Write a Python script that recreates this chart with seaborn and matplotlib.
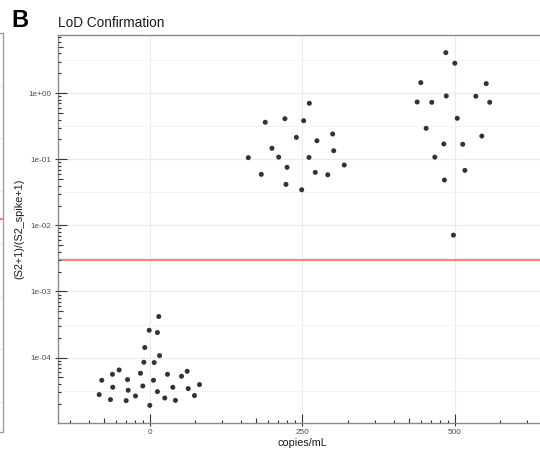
import numpy as np
import pandas as pd
import matplotlib
matplotlib.use("Agg")
import matplotlib.pyplot as plt
import matplotlib.transforms as mtransforms
from matplotlib.ticker import FixedLocator, FixedFormatter, NullFormatter
import seaborn as sns

# Spiked concentrations (copies/mL) shown as discrete groups
concentrations = ["0", "250", "500"]

# (S2+1)/(S2_spike+1) ratios per concentration
ratio_0 = [4.18e-4, 2.59e-4, 2.39e-4, 1.42e-4, 1.07e-4, 8.49e-5, 8.40e-5, 5.78e-5,
           6.49e-5, 5.58e-5, 5.58e-5, 6.20e-5, 5.21e-5, 4.53e-5, 4.64e-5, 4.53e-5,
           3.90e-5, 3.55e-5, 3.71e-5, 3.55e-5, 3.39e-5, 3.20e-5, 3.05e-5, 2.75e-5,
           2.62e-5, 2.66e-5, 2.31e-5, 2.23e-5, 2.44e-5, 2.25e-5, 1.89e-5]
ratio_250 = [0.705, 0.364, 0.412, 0.384, 0.242, 0.215, 0.191, 0.147, 0.135, 0.106,
             0.108, 0.107, 0.0757, 0.0820, 0.0593, 0.0635, 0.0584, 0.0418, 0.0346]
ratio_500 = [4.12, 2.85, 1.45, 1.40, 0.910, 0.901, 0.738, 0.730, 0.730, 0.418,
             0.295, 0.225, 0.171, 0.169, 0.108, 0.0681, 0.0486, 0.00713]

# Horizontal jitter of each point around its group
jitter_0 = [0.061, -0.002, 0.052, -0.031, 0.066, -0.037, 0.031, -0.059, -0.199, -0.243,
            0.118, 0.247, 0.210, -0.313, -0.144, 0.026, 0.328, -0.241, -0.044, 0.153,
            0.254, -0.140, 0.052, -0.330, -0.092, 0.295, -0.256, -0.153, 0.100, 0.170,
            0.002]
jitter_250 = [0.048, -0.241, -0.112, 0.011, 0.201, -0.037, 0.098, -0.197, 0.208, -0.352,
              -0.153, 0.046, -0.098, 0.277, -0.267, 0.087, 0.169, -0.105, -0.002]
jitter_500 = [-0.057, 0.002, -0.221, 0.208, -0.054, 0.140, -0.245, -0.149, 0.231, 0.018,
              -0.186, 0.179, -0.070, 0.054, -0.129, 0.068, -0.066, -0.007]

lod_threshold = 0.003

sns.set_theme(style="white")
plt.rcParams["font.family"] = ["Liberation Sans", "DejaVu Sans"]

rows = []
for i, (vals, jit) in enumerate([(ratio_0, jitter_0), (ratio_250, jitter_250),
                                 (ratio_500, jitter_500)]):
    for v, j in zip(vals, jit):
        rows.append({"group": i + 1, "pos": i + 1 + j, "ratio": v})
df = pd.DataFrame(rows)

W, H = 540, 451
fig = plt.figure(figsize=(W / 100, H / 100), dpi=100)


def px_rect(x0, y0, x1, y1):
    return [x0 / W, 1 - y1 / H, (x1 - x0) / W, (y1 - y0) / H]


# Edge of the neighbouring panel A
ax_a = fig.add_axes(px_rect(-100, 33, 3.2, 432))
ax_a.set_yscale("log")
ax_a.set_ylim(10 ** -6.57, 10 ** 1.0)
ax_a.set_xlim(0, 1)
ax_a.yaxis.set_major_locator(FixedLocator(10.0 ** np.arange(-6, 1)))
ax_a.yaxis.set_minor_locator(FixedLocator(10.0 ** (np.arange(-7, 1) + 0.5)))
ax_a.grid(True, which="major", axis="y", color="#ebebeb", lw=0.8)
ax_a.grid(True, which="minor", axis="y", color="#f4f4f4", lw=0.5)
ax_a.axhline(lod_threshold, color="#ff3030", alpha=0.6, lw=1.5)
ax_a.set_xticks([])
ax_a.tick_params(left=False, labelleft=False, which="both")
for s in ax_a.spines.values():
    s.set_color("#9a9a9a")
    s.set_linewidth(0.9)

# Panel B
x0_px, x1_px, y0_px, y1_px = 58, 546, 35, 423
ax = fig.add_axes(px_rect(x0_px, y0_px, x1_px, y1_px))
ax_w, ax_h = x1_px - x0_px, y1_px - y0_px

ax.set_yscale("log")
ax.set_xlim(0.4, 3.6)
llo, lhi = np.log10(df["ratio"].min()), np.log10(df["ratio"].max())
pad = 0.05 * (lhi - llo)
ax.set_ylim(10 ** (llo - pad), 10 ** (lhi + pad))

decades = np.arange(-5, 1)
ax.yaxis.set_major_locator(FixedLocator(10.0 ** decades))
ax.yaxis.set_major_formatter(FixedFormatter([f"1e{d:+03d}" for d in decades]))
ax.yaxis.set_minor_locator(FixedLocator(10.0 ** (np.arange(-6, 1) + 0.5)))
ax.yaxis.set_minor_formatter(NullFormatter())
ax.xaxis.set_major_locator(FixedLocator([1, 2, 3]))
ax.xaxis.set_major_formatter(FixedFormatter(concentrations))

ax.grid(True, which="major", color="#ebebeb", lw=0.8)
ax.grid(True, which="minor", axis="y", color="#f3f3f3", lw=0.6)
ax.set_axisbelow(True)

ax.tick_params(axis="both", which="major", direction="out", length=1.9, width=0.8,
               color="#333333", labelsize=5.9, labelcolor="#4d4d4d", pad=2.6,
               left=True, bottom=True)
ax.tick_params(axis="both", which="minor", length=0, left=False, bottom=False)

for name in ["left", "bottom", "top"]:
    ax.spines[name].set_color("#8a8a8a")
    ax.spines[name].set_linewidth(1.0)
ax.spines["right"].set_visible(False)

# Log-tick annotation along both axes (short, mid at 5, long at decades)
tick_len = {1: 9.0, 5: 5.0}
ytr = mtransforms.blended_transform_factory(ax.transAxes, ax.transData)
ymin, ymax = ax.get_ylim()
for d in range(-6, 2):
    for k in range(1, 10):
        v = k * 10.0 ** d
        if ymin <= v <= ymax:
            L = tick_len.get(k, 3.0) / ax_w
            ax.plot([0, L], [v, v], transform=ytr, color="#333333", lw=0.8,
                    solid_capstyle="butt", zorder=4)
xtr = mtransforms.blended_transform_factory(ax.transData, ax.transAxes)
for d in range(0, 5):
    for k in range(1, 10):
        p = d + np.log10(k)
        if 0.4 <= p <= 3.6:
            L = tick_len.get(k, 3.0) / ax_h
            ax.plot([p, p], [0, L], transform=xtr, color="#333333", lw=0.8,
                    solid_capstyle="butt", zorder=4)

ax.axhline(lod_threshold, color="#ff3030", alpha=0.6, lw=1.5, zorder=2)

sns.scatterplot(data=df, x="pos", y="ratio", color="#333333", s=13, linewidth=0,
                edgecolor="none", legend=False, ax=ax, zorder=3)
ax.set_xlabel("")
ax.set_ylabel("")

fig.text(302 / W, 1 - 446 / H, "copies/mL", fontsize=7.8, color="#1a1a1a",
         ha="center", va="baseline")
fig.text(19 / W, 1 - 229 / H, "(S2+1)/(S2_spike+1)", fontsize=7.8, color="#1a1a1a",
         rotation=90, ha="center", va="center")
fig.text(58 / W, 1 - 26.7 / H, "LoD Confirmation", fontsize=9.8, color="#1a1a1a",
         ha="left", va="baseline")
fig.text(11.7 / W, 1 - 26.7 / H, "B", fontsize=17, fontweight="bold", color="black",
         ha="left", va="baseline")

fig.savefig("out.png", dpi=100)
